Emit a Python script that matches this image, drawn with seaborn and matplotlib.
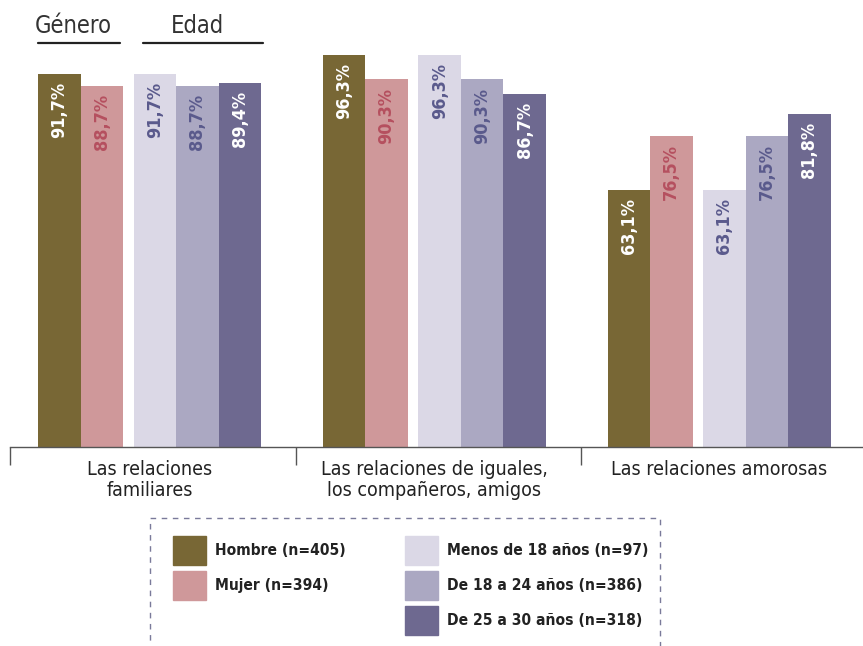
import pandas as pd
import seaborn as sns
import matplotlib.pyplot as plt
from matplotlib.patches import Patch, Rectangle
from matplotlib.lines import Line2D

# data
categorias = ["Las relaciones\nfamiliares",
              "Las relaciones de iguales,\nlos compañeros, amigos",
              "Las relaciones amorosas"]
grupos = ["Hombre (n=405)", "Mujer (n=394)", "Menos de 18 años (n=97)",
          "De 18 a 24 años (n=386)", "De 25 a 30 años (n=318)"]
hombre = [91.7, 96.3, 63.1]
mujer = [88.7, 90.3, 76.5]
menos18 = [91.7, 96.3, 63.1]
de18a24 = [88.7, 90.3, 76.5]
de25a30 = [89.4, 86.7, 81.8]

colores = ["#786735", "#cf989a", "#dbd8e6", "#aba8c2", "#6e6990"]
colores_txt = ["white", "#b5505f", "#5a5a8c", "#5a5a8c", "white"]

# layout
sep_grupo = 6.7
offsets = [0, 1, 2.25, 3.25, 4.25]

series = [hombre, mujer, menos18, de18a24, de25a30]
rows = []
for gi, g in enumerate(grupos):
    for ci, c in enumerate(categorias):
        rows.append({"categoria": c, "grupo": g, "valor": series[gi][ci],
                     "pos": ci * sep_grupo + offsets[gi], "gi": gi})
df = pd.DataFrame(rows)

sns.set_style("white")
plt.rcParams["font.family"] = ["DejaVu Sans"]
plt.rcParams["font.stretch"] = "condensed"

fig = plt.figure(figsize=(8.63, 6.46), dpi=100)
ax = fig.add_axes([10 / 863, 1 - 447 / 646, 853 / 863, (447 - 40) / 646])

sns.barplot(data=df, x="pos", y="valor", hue="grupo", hue_order=grupos,
            palette=colores, native_scale=True, width=1, dodge=False,
            legend=False, saturation=1, linewidth=0, ax=ax)

for _, r in df.iterrows():
    ax.text(r["pos"], r["valor"] - 2, f"{r['valor']:.1f}%".replace(".", ","),
            rotation=90, ha="center", va="top", fontsize=13, fontweight="bold",
            color=colores_txt[r["gi"]])

xmin = -1.16
ax.set_xlim(xmin, xmin + 853 / 42.5)
ax.set_ylim(0, 100)
ax.set_xlabel("")
ax.set_ylabel("")
ax.set_yticks([])
for s in ["left", "right", "top"]:
    ax.spines[s].set_visible(False)
ax.spines["bottom"].set_color("#555555")
ax.spines["bottom"].set_linewidth(1)

mid = (sep_grupo + 4.75 - 0.5) / 2
seps = [xmin + 0.01, mid + 0.1, mid + sep_grupo + 0.1]
ax.set_xticks(seps)
ax.set_xticklabels([])
ax.tick_params(axis="x", length=13, width=1, color="#555555", direction="out",
               bottom=True)

for ci, c in enumerate(categorias):
    ax.text(ci * sep_grupo + 2.125, -3.2, c, ha="center", va="top",
            fontsize=14, color="#222222", linespacing=1.15)

# headers
fig.text(73 / 863, 1 - 33 / 646, "Género", ha="center", va="baseline",
         fontsize=17, color="#333333")
fig.text(197 / 863, 1 - 33 / 646, "Edad", ha="center", va="baseline",
         fontsize=17, color="#333333")
fig.add_artist(Line2D([38 / 863, 120 / 863], [1 - 43 / 646] * 2,
                      color="#222222", lw=1.6))
fig.add_artist(Line2D([143 / 863, 263 / 863], [1 - 43 / 646] * 2,
                      color="#222222", lw=1.6))

# legend
handles = [Patch(color=colores[0]), Patch(color=colores[1]),
           Patch(color="none"), Patch(color=colores[2]),
           Patch(color=colores[3]), Patch(color=colores[4])]
labels = [grupos[0], grupos[1], "", grupos[2], grupos[3], grupos[4]]
leg = fig.legend(handles, labels, ncol=2, loc="upper left",
                 bbox_to_anchor=(173 / 863, 1 - 536 / 646), frameon=False,
                 borderpad=0, borderaxespad=0, handlelength=2.15,
                 handleheight=2.45, labelspacing=0.42, handletextpad=0.55,
                 columnspacing=3.8, prop={"size": 11.2, "weight": "bold"})
for t in leg.get_texts():
    t.set_color("#222222")
fig.add_artist(Rectangle((150 / 863, -0.05), 510 / 863, 1 - 518 / 646 + 0.05,
                         transform=fig.transFigure, fill=False,
                         edgecolor="#7a7a9a", lw=1, ls=(0, (4, 4))))

fig.savefig("out.png", dpi=100)
